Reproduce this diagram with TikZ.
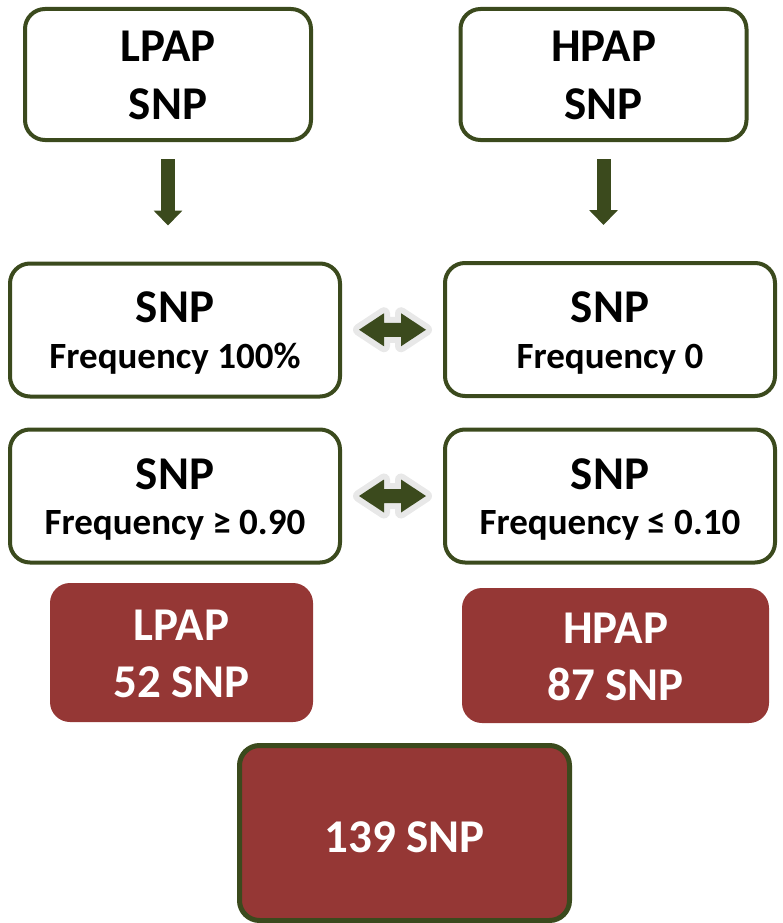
\documentclass[tikz,border=0pt]{standalone}
\usepackage{fontspec}
\setmainfont{Carlito}
\usetikzlibrary{arrows.meta,calc}
\definecolor{dgreen}{RGB}{59,74,29}
\definecolor{dred}{RGB}{149,55,53}
\definecolor{glow}{RGB}{232,232,232}
\tikzset{
  whitebox/.style={draw=dgreen, line width=4pt, rounded corners=20pt, fill=white, inner sep=0pt},
  redbox/.style={fill=dred, rounded corners=20pt, inner sep=0pt},
  bigtxt/.style={anchor=base, inner sep=0pt, font=\fontsize{47}{47}\selectfont\bfseries},
  smalltxt/.style={anchor=base, inner sep=0pt, font=\fontsize{37}{37}\selectfont\bfseries},
  whitetxt/.style={text=white},
  downarrow/.style={draw=dgreen, line width=14pt, -{Triangle[width=28pt,length=15pt]}, shorten <=17pt, shorten >=36pt},
}
\newcommand{\dblarrow}[1]{%
  \begin{scope}[shift={(#1)}]
    \draw[glow, line width=12pt, line join=round]
      (-33.5,0) -- (-8.5,-16.5) -- (-8.5,-7) -- (8.5,-7) -- (8.5,-16.5) -- (33.5,0)
      -- (8.5,16.5) -- (8.5,7) -- (-8.5,7) -- (-8.5,16.5) -- cycle;
    \fill[dgreen]
      (-33.5,0) -- (-8.5,-16.5) -- (-8.5,-7) -- (8.5,-7) -- (8.5,-16.5) -- (33.5,0)
      -- (8.5,16.5) -- (8.5,7) -- (-8.5,7) -- (-8.5,16.5) -- cycle;
  \end{scope}}
\begin{document}
\begin{tikzpicture}[x=1pt,y=-1pt]
\useasboundingbox (0,0) rectangle (782,923);
% top boxes
\node[whitebox, minimum width=286pt, minimum height=131pt] (tl) at (168,74.5) {};
\node[whitebox, minimum width=286pt, minimum height=131pt] (tr) at (603.5,74.5) {};
\node[bigtxt] (tl1) at (168,62) {LPAP};
\node[bigtxt] (tl2) at (168,120) {SNP};
\node[bigtxt] (tr1) at (603.5,62) {HPAP};
\node[bigtxt] (tr2) at (603.5,120) {SNP};
% row 2
\node[whitebox, minimum width=330pt, minimum height=133pt] (l2) at (175,330) {};
\node[whitebox, minimum width=330pt, minimum height=133pt] (r2) at (610,329.5) {};
\node[bigtxt] (l2a) at (175,322) {SNP};
\node[smalltxt] (l2b) at (175,368) {Frequency 100\%};
\node[bigtxt] (r2a) at (610,322) {SNP};
\node[smalltxt] (r2b) at (610,368) {Frequency 0};
% row 3
\node[whitebox, minimum width=330pt, minimum height=133pt] (l3) at (175,496) {};
\node[whitebox, minimum width=330pt, minimum height=133pt] (r3) at (610,496) {};
\node[bigtxt] (l3a) at (175,489) {SNP};
\node[smalltxt] (l3b) at (175,534) {Frequency ≥ 0.90};
\node[bigtxt] (r3a) at (610,489) {SNP};
\node[smalltxt] (r3b) at (610,534) {Frequency ≤ 0.10};
% red boxes
\node[redbox, minimum width=263pt, minimum height=139pt] (lr) at (181.5,652.5) {};
\node[redbox, minimum width=307pt, minimum height=135pt] (rr) at (615.5,655.5) {};
\node[bigtxt, whitetxt] (lr1) at (181.5,640) {LPAP};
\node[bigtxt, whitetxt] (lr2) at (181.5,697) {52 SNP};
\node[bigtxt, whitetxt] (rr1) at (615.5,643) {HPAP};
\node[bigtxt, whitetxt] (rr2) at (615.5,700) {87 SNP};
% bottom box
\node[redbox, draw=dgreen, line width=5pt, minimum width=330pt, minimum height=175pt] (tot) at (404.5,833) {};
\node[bigtxt, whitetxt] (tot1) at (404.5,852) {139 SNP};
% arrows
\draw[downarrow] (tl.south) -- (tl.south |- l2.north);
\draw[downarrow] (tr.south) -- (tr.south |- r2.north);
\path (l2.east) -- (r2.west) coordinate[pos=0.5] (m2);
\path (l3.east) -- (r3.west) coordinate[pos=0.5] (m3);
\dblarrow{m2}
\dblarrow{m3}
\end{tikzpicture}
\end{document}
